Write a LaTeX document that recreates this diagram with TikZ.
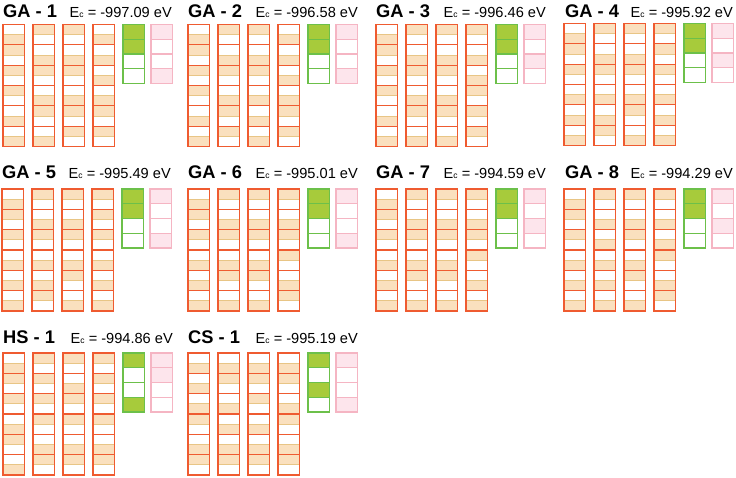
\documentclass[tikz,border=0pt]{standalone}
\usepackage{fontspec}
\setmainfont{Liberation Sans}
\definecolor{ored}{HTML}{EF5B30}
\definecolor{beige}{HTML}{FAE0BE}
\definecolor{tanl}{HTML}{E8C585}
\definecolor{gline}{HTML}{6CC04A}
\definecolor{gfill}{HTML}{A7CB3B}
\definecolor{pline}{HTML}{F5B5C3}
\definecolor{pfill}{HTML}{FDE5EC}
\tikzset{
  ttl/.style={inner sep=0pt, anchor=base west, font=\fontsize{18.3}{18.3}\selectfont\bfseries},
  ectxt/.style={inner sep=0pt, anchor=base east, font=\fontsize{14.6}{14.6}\selectfont},
}
\newcommand\ocolumn[3]{%
  \foreach \b [count=\i from 0] in {#3} {
    \fill[beige] (#1,#2+\i*20.333+\b*10.167) rectangle ++(21.5,10.167);
    \draw[tanl,line width=0.8pt] (#1,#2+\i*20.333+10.167) -- ++(21.5,0);
  }
  \foreach \i in {1,...,5} \draw[ored,line width=1.2pt] (#1,#2+\i*20.333) -- ++(21.5,0);
  \draw[ored,line width=1.2pt] (#1,#2) rectangle ++(21.5,122);
}
\newcommand\gpcolumn[5]{% x y list fillcolor linecolor
  \foreach \b [count=\i from 0] in {#3} {
    \ifnum\b=1 \fill[#4] (#1,#2+\i*14.75) rectangle ++(21.5,14.75);\fi
  }
  \foreach \i in {1,2,3} \draw[#5,line width=1.1pt] (#1,#2+\i*14.75) -- ++(21.5,0);
  \draw[#5,line width=1.1pt] (#1,#2) rectangle ++(21.5,59);
}
\newcommand\panel[8]{%
  \ocolumn{#1}{#2}{#3}
  \ocolumn{#1+30}{#2}{#4}
  \ocolumn{#1+60}{#2}{#5}
  \ocolumn{#1+90}{#2}{#6}
  \gpcolumn{#1+120}{#2}{#7}{gfill}{gline}
  \gpcolumn{#1+148}{#2}{#8}{pfill}{pline}
}
\newcommand\Ec{E{\fontsize{8.5}{8.5}\selectfont c}}
\begin{document}
\begin{tikzpicture}[x=1pt,y=-1pt]
\useasboundingbox (0,0) rectangle (736,477);
% row 1
\panel{3}{24.5}{1,0,0,0,1,1}{0,1,0,1,0,1}{0,1,0,1,0,0}{1,1,1,1,0,0}{1,1,0,0}{1,0,0,1}
\panel{188}{24.5}{1,0,0,0,1,1}{0,1,0,1,0,0}{0,1,0,1,1,1}{1,1,1,1,0,0}{1,1,0,0}{1,0,0,1}
\panel{376}{24.5}{1,0,0,0,1,1}{0,1,0,1,0,1}{0,1,0,1,0,1}{0,1,1,0,0,0}{1,1,0,0}{1,0,1,0}
\panel{564}{23.5}{1,0,0,1,1,1}{0,1,0,1,1,0}{0,1,0,1,0,1}{0,0,0,1,1,1}{1,1,0,0}{1,0,1,0}
% row 2
\panel{2}{189}{1,0,0,1,1,1}{0,1,0,1,1,0}{0,1,0,1,0,1}{0,0,0,1,1,1}{1,1,0,0}{1,0,0,1}
\panel{188}{189}{1,0,0,1,1,1}{0,1,0,1,0,1}{0,1,0,1,0,1}{0,1,0,0,1,0}{1,1,0,0}{1,0,0,1}
\panel{376}{189}{1,0,0,1,1,1}{0,1,0,1,0,1}{0,1,0,1,0,1}{0,1,0,0,1,1}{1,1,0,0}{1,0,1,0}
\panel{564}{189}{1,0,0,1,1,1}{0,1,1,1,1,1}{0,1,0,1,0,1}{0,1,1,0,1,0}{1,1,0,0}{1,0,1,0}
% row 3
\panel{3}{353}{1,0,0,1,0,1}{0,0,0,0,1,0}{0,1,0,0,1,0}{0,0,0,0,1,0}{1,0,0,1}{1,1,0,0}
\panel{188}{353}{1,1,1,0,1,0}{1,0,1,1,1,0}{1,0,0,1,1,0}{1,0,1,0,1,0}{1,0,1,0}{1,0,0,1}
% titles
\node[ttl] (t1) at (3,17) {GA - 1};
\node[ectxt] (e1) at (172,17) {\Ec{} = -997.09 eV};
\node[ttl] (t2) at (188,17) {GA - 2};
\node[ectxt] (e2) at (358,17) {\Ec{} = -996.58 eV};
\node[ttl] (t3) at (376,17) {GA - 3};
\node[ectxt] (e3) at (546,17) {\Ec{} = -996.46 eV};
\node[ttl] (t4) at (565,17) {GA - 4};
\node[ectxt] (e4) at (733,17) {\Ec{} = -995.92 eV};
\node[ttl] (t5) at (2,178) {GA - 5};
\node[ectxt] (e5) at (171,178) {\Ec{} = -995.49 eV};
\node[ttl] (t6) at (188,178) {GA - 6};
\node[ectxt] (e6) at (358,178) {\Ec{} = -995.01 eV};
\node[ttl] (t7) at (376,178) {GA - 7};
\node[ectxt] (e7) at (546,178) {\Ec{} = -994.59 eV};
\node[ttl] (t8) at (565,178) {GA - 8};
\node[ectxt] (e8) at (733,178) {\Ec{} = -994.29 eV};
\node[ttl] (t9) at (3,343) {HS - 1};
\node[ectxt] (e9) at (173,343) {\Ec{} = -994.86 eV};
\node[ttl] (t10) at (188,343) {CS - 1};
\node[ectxt] (e10) at (358,343) {\Ec{} = -995.19 eV};
\end{tikzpicture}
\end{document}
